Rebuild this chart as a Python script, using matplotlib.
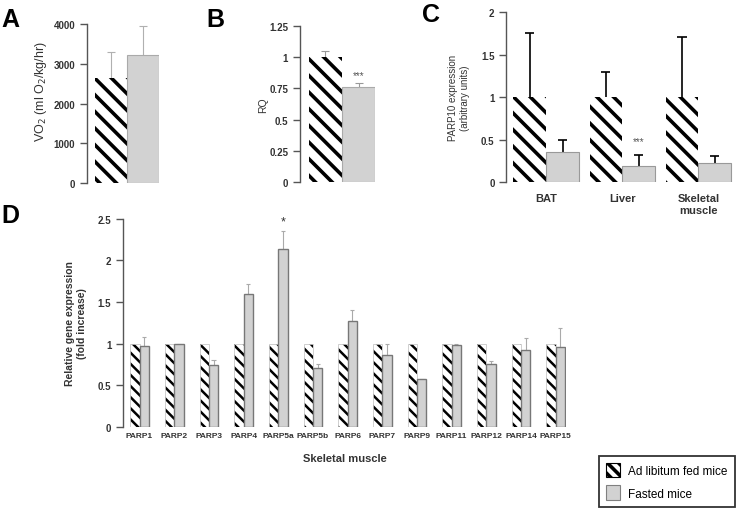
import numpy as np
import matplotlib
matplotlib.use("Agg")
import matplotlib.pyplot as plt
from matplotlib.patches import Patch

plt.rcParams['font.family'] = ['Liberation Sans', 'DejaVu Sans']
plt.rcParams['hatch.linewidth'] = 2.6

# panel A - VO2
vo2_mean = [2640, 3210]
vo2_err = [650, 740]
# panel B - RQ
rq_mean = [1.0, 0.76]
rq_err = [0.05, 0.03]
# panel C - PARP10 expression
tissues = ["BAT", "Liver", "Skeletal\nmuscle"]
c_fed = [1.0, 1.0, 1.0]
c_fed_err = [0.75, 0.30, 0.71]
c_fast = [0.36, 0.19, 0.22]
c_fast_err = [0.13, 0.13, 0.09]
# panel D - skeletal muscle PARPs
genes = ["PARP1", "PARP2", "PARP3", "PARP4", "PARP5a", "PARP5b", "PARP6",
         "PARP7", "PARP9", "PARP11", "PARP12", "PARP14", "PARP15"]
d_fed = [1.0] * 13
d_fast = [0.97, 0.99, 0.74, 1.60, 2.14, 0.71, 1.27, 0.86, 0.57, 0.985, 0.75, 0.92, 0.96]
d_fast_err = [0.11, 0.01, 0.06, 0.12, 0.21, 0.05, 0.14, 0.13, 0.01, 0.01, 0.04, 0.15, 0.23]

TXT = '#333333'
GREY_FACE = '#d2d2d2'


def style(ax):
    for s in ['top', 'right', 'bottom']:
        ax.spines[s].set_visible(False)
    ax.spines['left'].set_color('#555555')
    ax.spines['left'].set_linewidth(1.0)
    ax.tick_params(axis='y', direction='out', length=5, width=1, color='#555555',
                   labelsize=7, labelcolor=TXT)
    ax.tick_params(axis='x', length=0)
    for lab in ax.get_yticklabels():
        lab.set_fontweight('bold')


def up_err(ax, x, y, e, cap, color, lw):
    x = np.asarray(x, float)
    top = np.asarray(y) + np.asarray(e)
    ax.vlines(x, y, top, color=color, lw=lw, zorder=1)
    ax.hlines(top, x - cap, x + cap, color=color, lw=lw, zorder=1)


fig = plt.figure(figsize=(7.37, 5.1), dpi=100)

# ---- A ----
axA = fig.add_axes([0.118, 0.639, 0.098, 0.312])
axA.bar([0], vo2_mean[:1], width=1, color='white', edgecolor='black', lw=0, hatch='\\\\', zorder=2)
axA.bar([1], vo2_mean[1:], width=1, color=GREY_FACE, edgecolor='#aaaaaa', lw=0.8, zorder=2)
up_err(axA, [0, 1], vo2_mean, vo2_err, 0.12, '#b0b0b0', 0.8)
axA.set_xlim(-0.75, 1.5)
axA.set_ylim(0, 4000)
axA.set_yticks([0, 1000, 2000, 3000, 4000])
axA.set_xticks([])
style(axA)
axA.set_ylabel("VO$_2$ (ml O$_2$/kg/hr)", fontsize=9, color=TXT, labelpad=3)
axA.yaxis.label.set_y(0.58)

# ---- B ----
axB = fig.add_axes([0.407, 0.641, 0.102, 0.306])
axB.bar([0], rq_mean[:1], width=1, color='white', edgecolor='black', lw=0, hatch='\\\\', zorder=2)
axB.bar([1], rq_mean[1:], width=1, color=GREY_FACE, edgecolor='#aaaaaa', lw=0.8, zorder=2)
up_err(axB, [0, 1], rq_mean, rq_err, 0.12, '#999999', 0.8)
axB.text(1, 0.82, "***", ha='center', va='bottom', fontsize=7, color='#555555')
axB.set_xlim(-0.77, 1.5)
axB.set_ylim(0, 1.25)
axB.set_yticks([0, 0.25, 0.5, 0.75, 1, 1.25])
axB.set_yticklabels(["0", "0.25", "0.5", "0.75", "1", "1.25"])
axB.set_xticks([])
style(axB)
axB.set_ylabel("RQ", fontsize=7.5, color=TXT, labelpad=1)

# ---- C ----
axC = fig.add_axes([0.687, 0.641, 0.308, 0.333])
xc = np.arange(len(tissues))
w = 0.43
axC.bar(xc - w / 2, c_fed, width=w, color='white', edgecolor='black', lw=0, hatch='\\\\', zorder=2)
axC.bar(xc + w / 2, c_fast, width=w, color=GREY_FACE, edgecolor='#999999', lw=0.8, zorder=2)
up_err(axC, xc - w / 2, c_fed, c_fed_err, 0.06, 'black', 1.2)
up_err(axC, xc + w / 2, c_fast, c_fast_err, 0.06, 'black', 1.2)
axC.text(1 + w / 2, 0.42, "***", ha='center', va='bottom', fontsize=7, color='#555555')
axC.set_xlim(-0.524, 2.46)
axC.set_ylim(0, 2)
axC.set_yticks([0, 0.5, 1, 1.5, 2])
axC.set_yticklabels(["0", "0.5", "1", "1.5", "2"])
axC.set_xticks(xc)
axC.set_xticklabels(tissues, fontsize=8, fontweight='bold', color=TXT)
style(axC)
axC.tick_params(axis='x', pad=8)
axC.set_ylabel("PARP10 expression\n(arbitrary units)", fontsize=7, color=TXT, labelpad=8)

# ---- D ----
axD = fig.add_axes([0.167, 0.161, 0.601, 0.408])
xd = np.arange(len(genes))
wd = 0.27
with plt.rc_context({'hatch.linewidth': 1.8}):
    axD.bar(xd - wd / 2, d_fed, width=wd, color='white', edgecolor='black', lw=0, hatch='\\\\\\', zorder=2)
axD.bar(xd - wd / 2, d_fed, width=wd, color='none', edgecolor='#c8c8c8', lw=0.6, zorder=2)
axD.bar(xd + wd / 2, d_fast, width=wd, color=GREY_FACE, edgecolor='#777777', lw=1.0, zorder=2)
up_err(axD, xd + wd / 2, d_fast, d_fast_err, 0.06, '#aaaaaa', 0.8)
axD.text(4 + wd / 2, 2.40, "*", ha='center', va='bottom', fontsize=9, color='#333333')
axD.set_xlim(-0.475, 12.3)
axD.set_ylim(0, 2.5)
axD.set_yticks([0, 0.5, 1, 1.5, 2, 2.5])
axD.set_yticklabels(["0", "0.5", "1", "1.5", "2", "2.5"])
axD.set_xticks(xd)
axD.set_xticklabels(genes, fontsize=6, fontweight='bold', color=TXT)
style(axD)
axD.tick_params(axis='x', pad=4)
axD.set_ylabel("Relative gene expression\n(fold increase)", fontsize=7.5, fontweight='bold',
               color=TXT, labelpad=8)
axD.set_xlabel("Skeletal muscle", fontsize=8, fontweight='bold', color=TXT, labelpad=10)

# panel letters
for lbl, x, y in [("A", 0.002, 0.985), ("B", 0.280, 0.985), ("C", 0.573, 0.995), ("D", 0.002, 0.600)]:
    fig.text(x, y, lbl, fontsize=18, fontweight='bold', ha='left', va='top')

with plt.rc_context({'hatch.linewidth': 1.6}):
    handles = [Patch(facecolor='white', edgecolor='black', hatch='\\\\\\', lw=0.8),
               Patch(facecolor=GREY_FACE, edgecolor='#808080', lw=0.8)]
leg = fig.legend(handles, ["Ad libitum fed mice", "Fasted mice"], loc='lower right',
                 bbox_to_anchor=(0.997, 0.004), borderaxespad=0, fontsize=8.5, frameon=True,
                 fancybox=False, handlelength=1.2, handleheight=1.5, borderpad=0.6,
                 labelspacing=0.7, handletextpad=0.7)
leg.get_frame().set_edgecolor('black')
leg.get_frame().set_linewidth(1.3)

fig.savefig("out.png", dpi=100)
